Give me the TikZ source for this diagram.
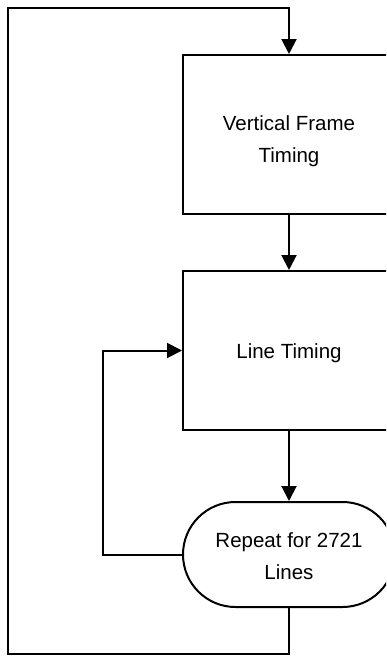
\documentclass[tikz,border=0pt]{standalone}
\usepackage{fontspec}
\setmainfont{Liberation Sans}
\usetikzlibrary{arrows.meta}
\begin{document}
\begin{tikzpicture}[x=1pt,y=-1pt,
  line width=2pt,
  boxstyle/.style={draw, rectangle, minimum width=212pt, minimum height=159pt, inner sep=0pt},
  stadstyle/.style={draw, rectangle, rounded corners=52.5pt, minimum width=212pt, minimum height=105pt, inner sep=0pt},
  txt/.style={align=center, inner sep=0pt, font=\fontsize{20.5}{32}\selectfont},
  arr/.style={-{Triangle[length=15pt,width=15pt]}},
  link/.style={line join=miter}]
\useasboundingbox (0,0) rectangle (386,656);
\clip (0,0) rectangle (386,656);
\node[boxstyle] (vft) at (289,134.5) {};
\node[boxstyle] (lt) at (289,350.5) {};
\node[stadstyle] (rep) at (289,554.5) {};
\node[txt] (vfttext) at ([yshift=-7pt]vft.center) {Vertical Frame\\Timing};
\node[txt] (lttext) at ([yshift=-3pt]lt.center) {Line Timing};
\node[txt] (reptext) at ([yshift=-1.5pt]rep.center) {Repeat for 2721\\Lines};
\coordinate (bl) at (8,654);
\coordinate (tl) at (8,8);
\coordinate (il) at (103,554.5);
\draw[arr] (vft.south) -- (lt.north);
\draw[arr] (lt.south) -- (rep.north);
\draw[arr,link] (rep.west) -- (il) |- (lt.west);
\draw[arr,link] (rep.south) -- (rep.south |- bl) -- (bl) -- (tl) -- (tl -| vft.north) -- (vft.north);
\end{tikzpicture}
\end{document}
